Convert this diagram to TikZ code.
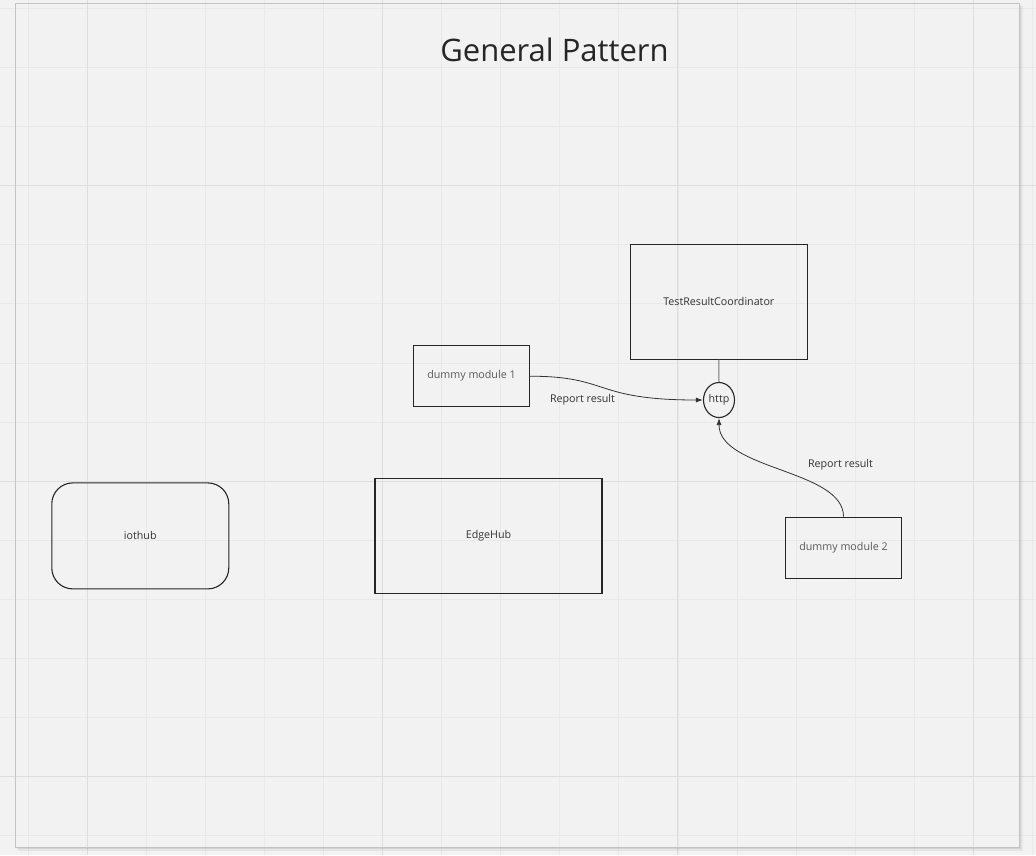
\documentclass[tikz,border=0pt]{standalone}
\usepackage{fontspec}
\setmainfont{Open Sans}
\usetikzlibrary{arrows.meta,shapes.geometric}
\definecolor{hatter}{HTML}{F2F2F2}
\definecolor{racsvonal}{HTML}{E8E8E8}
\definecolor{foracs}{HTML}{DEDEDE}
\definecolor{keretszin}{HTML}{C4C4C4}
\definecolor{szoveg}{HTML}{333333}

\begin{document}
\begin{tikzpicture}[x=1pt,y=-1pt,
    racs/.style={racsvonal,line width=0.7pt},
    fovonal/.style={foracs,line width=0.9pt},
    doboz/.style={draw=black!85,line width=1.1pt,inner sep=0pt,
      text=szoveg,font=\fontsize{10.7}{13}\selectfont},
    felirat/.style={text=szoveg,inner sep=1pt,font=\fontsize{10.7}{13}\selectfont},
    nyil/.style={black!80,line width=0.8pt,-{Latex[length=7pt,width=5pt]}}]
        % Rögzítjük a kép méretét és kitöltjük a hátteret
        \useasboundingbox (0,0) rectangle (1036,855);
        \fill[hatter] (0,0) rectangle (1036,855);
        % Megrajzoljuk a rácsot
        \foreach \i in {0,...,17}
          \draw[racs] ({28.3+59.05*\i},0) -- ++(0,855);
        \foreach \j in {0,...,14}
          \draw[racs] (0,{8.3+59.1*\j}) -- ++(1036,0);
        % A sűrűbb fővonalak minden ötödik helyen
        \foreach \i in {1,6,11,16}
          \draw[fovonal] ({28.3+59.05*\i},0) -- ++(0,855);
        \foreach \j in {3,8,13}
          \draw[fovonal] (0,{8.3+59.1*\j}) -- ++(1036,0);
        % A lap árnyéka és kerete
        \fill[black,opacity=0.05] (17.5,6) rectangle (1023,851);
        \fill[black,opacity=0.08] (16.5,5) rectangle (1021,849);
        \fill[hatter] (15.5,3.7) rectangle (1019.3,847);
        \foreach \i in {0,...,16}
          \draw[racs] ({28.3+59.05*\i},3.7) -- (28.3+59.05*\i,847);
        \foreach \j in {0,...,14}
          \draw[racs] (15.5,{8.3+59.1*\j}) -- (1019.3,8.3+59.1*\j);
        \foreach \i in {1,6,11,16}
          \draw[fovonal] ({28.3+59.05*\i},3.7) -- (28.3+59.05*\i,847);
        \foreach \j in {3,8,13}
          \draw[fovonal] (15.5,{8.3+59.1*\j}) -- (1019.3,8.3+59.1*\j);
        \draw[keretszin,line width=1pt] (15.5,3.7) rectangle (1019.3,847);
        % A cím
        \node[text=black!85,font=\fontsize{31}{36}\selectfont] (cim) at (554.5,50) {General Pattern};
        % A dobozok
        \node[doboz,minimum width=177pt,minimum height=115pt] (trc) at (718.8,301.6) {TestResultCoordinator};
        \node[doboz,minimum width=116pt,minimum height=61pt,text=black!65] (modul1) at (471.5,376.2) {dummy module 1};
        \node[doboz,minimum width=116pt,minimum height=61pt,text=black!65] (modul2) at (843.5,547.6) {dummy module 2};
        \node[doboz,minimum width=227pt,minimum height=115pt] (edgehub) at (488.5,535.7) {EdgeHub};
        \node[doboz,rounded corners=21pt,minimum width=177pt,minimum height=106pt] (iothub) at (140.3,535.9) {iothub};
        % A http végpont
        \node[doboz,ellipse,minimum width=31pt,minimum height=35pt] (http) at (719,400) {http};
        % A koordinátor és a végpont összekötése
        \draw[black!55,line width=1pt] (trc.south) -- (http.north);
        % A modulok jelentései a végpontra
        \draw[nyil] (modul1.east) .. controls +(80,0) and +(-110,0) .. (http.west);
        \draw[nyil] (modul2.north) .. controls +(0,-47) and +(0,52) .. (http.south);
        % A nyilak feliratai
        \node[felirat] (jelentes1) at (582.5,400) {Report result};
        \node[felirat] (jelentes2) at (840.5,465) {Report result};
    \end{tikzpicture}
\end{document}
